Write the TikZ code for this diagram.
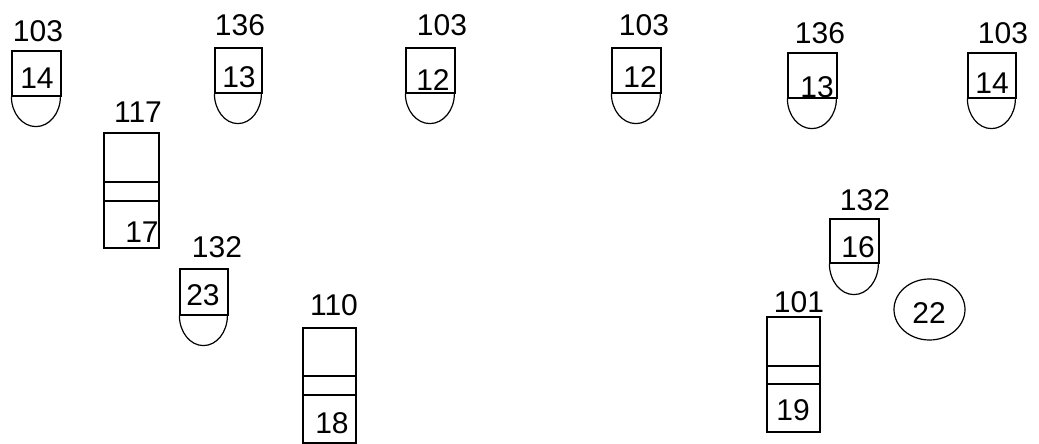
\documentclass[tikz,border=0pt]{standalone}
\usepackage{fontspec}
\setmainfont{Liberation Sans}
\begin{document}
\begin{tikzpicture}[x=1pt,y=-1pt,
  lbl/.style={inner sep=0pt,font=\fontsize{30}{32}\selectfont},
  part/.style={draw,line width=1.2pt,inner sep=0pt},
  shp/.style={line width=1.2pt}]
\useasboundingbox (0,0) rectangle (1039,444);
% E1
\node[part,minimum width=49pt,minimum height=45pt] (b1) at (36.5,73.5) {};
\draw[shp] (b1.south west) arc[start angle=180,end angle=360,x radius=24.5pt,y radius=30pt];
\node[lbl] (l1) at (38,31) {103};
\node[lbl] (t1) at (37,78) {14};
% E2
\node[part,minimum width=47pt,minimum height=45pt] (b2) at (238.5,70.5) {};
\draw[shp] (b2.south west) arc[start angle=180,end angle=360,x radius=23.5pt,y radius=30pt];
\node[lbl] (l2) at (240,25) {136};
\node[lbl] (t2) at (239,77) {13};
% E3
\node[part,minimum width=49pt,minimum height=45pt] (b3) at (430.5,70.5) {};
\draw[shp] (b3.south west) arc[start angle=180,end angle=360,x radius=24.5pt,y radius=30pt];
\node[lbl] (l3) at (442,25) {103};
\node[lbl] (t3) at (433,80) {12};
% E4
\node[part,minimum width=49pt,minimum height=45pt] (b4) at (636.5,70.5) {};
\draw[shp] (b4.south west) arc[start angle=180,end angle=360,x radius=24.5pt,y radius=30pt];
\node[lbl] (l4) at (644,25) {103};
\node[lbl] (t4) at (640,77) {12};
% E5
\node[part,minimum width=49pt,minimum height=45pt] (b5) at (812.5,75.5) {};
\draw[shp] (b5.south west) arc[start angle=180,end angle=360,x radius=24.5pt,y radius=30pt];
\node[lbl] (l5) at (820,33) {136};
\node[lbl] (t5) at (817,87) {13};
% E6
\node[part,minimum width=48pt,minimum height=45pt] (b6) at (992,75.5) {};
\draw[shp] (b6.south west) arc[start angle=180,end angle=360,x radius=24pt,y radius=30pt];
\node[lbl] (l6) at (1003,33) {103};
\node[lbl] (t6) at (992,83) {14};
% E23
\node[part,minimum width=48pt,minimum height=46pt] (b7) at (204,292) {};
\draw[shp] (b7.south west) arc[start angle=180,end angle=360,x radius=24pt,y radius=30pt];
\node[lbl] (l7) at (217,247) {132};
\node[lbl] (t7) at (203,295) {23};
% E16
\node[part,minimum width=49pt,minimum height=44pt] (b8) at (854.5,241) {};
\draw[shp] (b8.south west) arc[start angle=180,end angle=360,x radius=24.5pt,y radius=31pt];
\node[lbl] (l8) at (865,200) {132};
\node[lbl] (t8) at (858,247) {16};
% E117
\node[part,minimum width=55pt,minimum height=115pt] (c1) at (131.5,190.5) {};
\draw[shp] (104,182) -- (159,182) (104,201) -- (159,201);
\node[lbl] (m1) at (138,112) {117};
\node[lbl] (s1) at (142,232) {17};
% E110
\node[part,minimum width=53pt,minimum height=115pt] (c2) at (329.5,385.5) {};
\draw[shp] (303,376) -- (356,376) (303,395) -- (356,395);
\node[lbl] (m2) at (334,305) {110};
\node[lbl] (s2) at (332,423) {18};
% E101
\node[part,minimum width=53pt,minimum height=115pt] (c3) at (793.5,374.5) {};
\draw[shp] (767,366) -- (820,366) (767,384) -- (820,384);
\node[lbl] (m3) at (799,302) {101};
\node[lbl] (s3) at (793,410) {19};
% ellipse
\draw[shp] (929.5,309.5) ellipse[x radius=35.5pt,y radius=30.5pt];
\node[lbl] (e1) at (929,313) {22};
\end{tikzpicture}
\end{document}
